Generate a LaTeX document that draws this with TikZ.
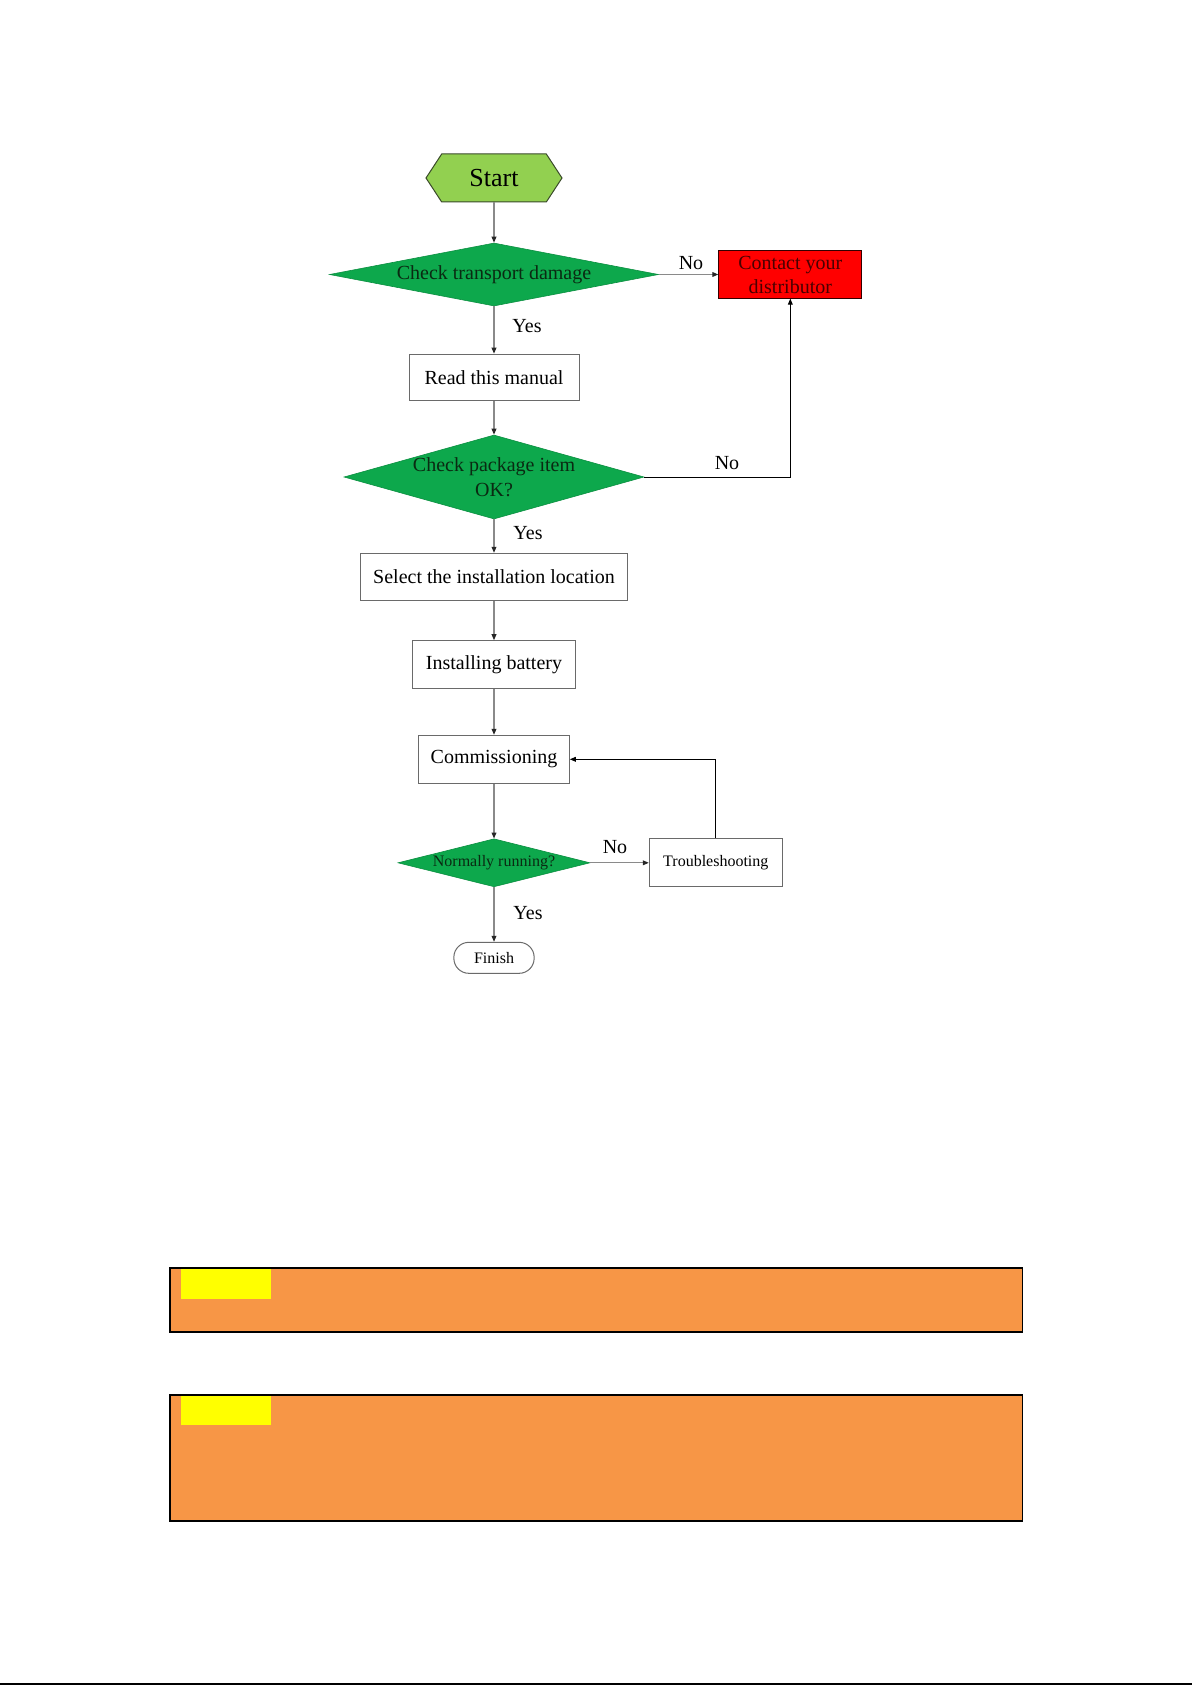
\documentclass[tikz,border=0pt]{standalone}
\usepackage{fontspec}
\setmainfont{Liberation Serif}
\usetikzlibrary{shapes.geometric,arrows.meta}
\definecolor{hexgreen}{HTML}{92D050}
\definecolor{hexborder}{HTML}{3A4A2A}
\definecolor{decgreen}{HTML}{0DA84C}
\definecolor{dectext}{HTML}{0A2A12}
\definecolor{conngray}{HTML}{8A8A8A}
\definecolor{boxgray}{HTML}{6A6A6A}
\definecolor{alertred}{HTML}{FF0000}
\definecolor{alerttext}{HTML}{4A0000}
\definecolor{noteorange}{HTML}{F79646}
\definecolor{noteyellow}{HTML}{FFFF00}
\begin{document}
\begin{tikzpicture}[x=0.5pt,y=-0.5pt,
  conn/.style={draw=conngray, line width=0.55pt, -{Triangle[length=3pt,width=2.4pt,color=black!85]}},
  back/.style={draw=black, line width=0.5pt, -{Triangle[length=3pt,width=2.4pt]}},
  box/.style={rectangle, draw=boxgray, line width=0.5pt, fill=white, inner sep=0pt, align=center, font=\fontsize{10}{12}\selectfont},
  dec/.style={diamond, fill=decgreen, draw=decgreen!85!black, line width=0.3pt, inner sep=0pt, text=dectext, align=center, font=\fontsize{10}{12}\selectfont},
  lbl/.style={inner sep=0pt, font=\fontsize{10}{12}\selectfont},
  notebox/.style={rectangle, anchor=north west, fill=noteorange, draw=black, line width=0.8pt, inner sep=0pt},
  notetag/.style={rectangle, anchor=north west, fill=noteyellow, inner sep=0pt}
]
\useasboundingbox (0,0) rectangle (1192,1685);

% Start hexagon
\filldraw[fill=hexgreen, draw=hexborder, line width=0.5pt]
  (426,178) -- (441.7,154) -- (546.3,154) -- (562,178) -- (546.3,202) -- (441.7,202) -- cycle;
\node[inner sep=0pt, minimum width=68pt, minimum height=24pt, font=\fontsize{13}{15}\selectfont] (start) at (494,178) {Start};

% decisions
\node[dec, minimum width=164.5pt, minimum height=31.5pt, aspect=5.2] (d1) at (494,274.5) {Check transport damage};
\node[dec, minimum width=150pt, minimum height=42pt, aspect=3.6,
      label={[name=d2t, inner sep=0pt, align=center, text=dectext, font=\fontsize{10}{12.5}\selectfont]center:Check package item\\OK?}] (d2) at (494,477) {};
\node[dec, minimum width=96pt, minimum height=24pt, aspect=4, font=\fontsize{8}{10}\selectfont] (d3) at (494,862.8) {Normally running?};

% process boxes
\node[box, minimum width=71.5pt, minimum height=23.65pt, fill=alertred, draw=black!80!red, text=alerttext] (contact) at (790.3,274.5) {Contact your\\distributor};
\node[box, minimum width=85pt, minimum height=23.35pt] (read) at (494,377.5) {Read this manual};
\node[box, minimum width=133.5pt, minimum height=23.7pt] (select) at (494,577) {Select the installation location};
\node[box, minimum width=81.5pt, minimum height=23.8pt] (battery) at (494,664.5) {Installing battery};
\node[box, minimum width=75.35pt, minimum height=24pt] (comm) at (494,759.3) {Commissioning};
\node[box, minimum width=66.5pt, minimum height=24pt, font=\fontsize{8}{10}\selectfont] (trouble) at (715.8,862.8) {Troubleshooting};
\node[box, minimum width=40.15pt, minimum height=15.5pt, rounded corners=7.5pt, font=\fontsize{8}{10}\selectfont] (finish) at (494,957.8) {Finish};

% connectors
\draw[conn] (start) -- (d1);
\draw[conn] (d1.east) -- (contact.west);
\node[lbl] (no1) at (691,263) {No};
\draw[conn] (d1) -- (read);
\node[lbl] (yes1) at (527,326) {Yes};
\draw[conn] (read) -- (d2);
\draw[back] (d2.east) -| (contact.south);
\node[lbl] (no2) at (727,463) {No};
\draw[conn] (d2) -- (select);
\node[lbl] (yes2) at (528,533) {Yes};
\draw[conn] (select) -- (battery);
\draw[conn] (battery) -- (comm);
\draw[conn] (comm) -- (d3);
\draw[conn] (d3.east) -- (trouble.west);
\node[lbl] (no3) at (615,847) {No};
\draw[back] (trouble.north) |- (comm.east);
\draw[conn] (d3) -- (finish);
\node[lbl] (yes3) at (528,913) {Yes};

% note boxes
\node[notebox, minimum width=426.25pt, minimum height=32pt] (note1) at (169,1267.3) {};
\node[notetag, minimum width=45.25pt, minimum height=15pt] (tag1) at (180.5,1268.2) {};
\node[notebox, minimum width=426.25pt, minimum height=62.85pt] (note2) at (169,1394.3) {};
\node[notetag, minimum width=45.25pt, minimum height=14.5pt] (tag2) at (180.5,1395.2) {};

% bottom rule
\fill[black] (0,1682.6) rectangle (1192,1685);
\end{tikzpicture}
\end{document}
